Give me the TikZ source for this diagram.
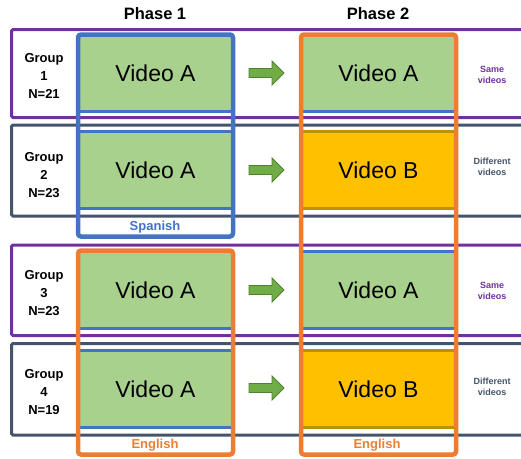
\documentclass[tikz,border=0pt]{standalone}
\usepackage{fontspec}
\setmainfont{Liberation Sans}
\definecolor{cpurple}{HTML}{7030A0}
\definecolor{cslate}{HTML}{44546A}
\definecolor{cblue}{HTML}{4472C4}
\definecolor{corange}{HTML}{ED7D31}
\definecolor{cgreen}{HTML}{A9D18E}
\definecolor{cyellow}{HTML}{FFC000}
\definecolor{cgold}{HTML}{BF9000}
\definecolor{carrow}{HTML}{70AD47}
\definecolor{carrowb}{HTML}{507E32}
\tikzset{
  rowpurple/.style={draw=cpurple, line width=3pt, rounded corners=1.5pt},
  rowslate/.style={draw=cslate, line width=3pt, rounded corners=1.5pt},
  vidbox/.style={inner sep=0pt, minimum width=155pt, minimum height=80pt, font=\fontsize{23}{27}\selectfont},
  vida/.style={vidbox, fill=cgreen},
  vidb/.style={vidbox, fill=cyellow},
  blueline/.style={draw=cblue, line width=2.5pt},
  goldline/.style={draw=cgold, line width=2.5pt},
  langbox/.style={line width=4.5pt, rounded corners=3pt},
  grouplabel/.style={align=center, font=\bfseries\fontsize{13}{18}\selectfont},
  sidelabel/.style={align=center, font=\bfseries\fontsize{9}{11}\selectfont},
  phaselabel/.style={font=\bfseries\fontsize{16.5}{20}\selectfont},
  langlabel/.style={font=\bfseries\fontsize{13}{15}\selectfont},
  greenarrow/.style={fill=carrow, draw=carrowb, line width=0.8pt}
}
\begin{document}
\begin{tikzpicture}[x=1pt, y=-1pt]
\useasboundingbox (0,0) rectangle (521,458);
\clip (0,0) rectangle (521,458);
% group rows
\draw[rowpurple] (11.5,29.5) rectangle (540,117.5);
\draw[rowslate] (11.5,125) rectangle (540,216);
\draw[rowpurple] (11.5,245) rectangle (540,335.5);
\draw[rowslate] (11.5,343.5) rectangle (540,435);
% video boxes
\node[vida] (v11) at (155.5,73) {Video A};
\node[vida] (v12) at (378.5,73) {Video A};
\node[vida] (v21) at (155.5,170) {Video A};
\node[vidb] (v22) at (378.5,170) {Video B};
\node[vida] (v31) at (155.5,290) {Video A};
\node[vida] (v32) at (378.5,290) {Video A};
\node[vida] (v41) at (155.5,389) {Video A};
\node[vidb] (v42) at (378.5,389) {Video B};
% frame lines
\foreach \v in {v11,v12,v21,v31,v32,v41}{
  \draw[blueline] ([yshift=-1.5pt]\v.north west) -- ([yshift=-1.5pt]\v.north east);
  \draw[blueline] ([yshift=1.5pt]\v.south west) -- ([yshift=1.5pt]\v.south east);
}
\foreach \v in {v22,v42}{
  \draw[goldline] ([yshift=-1.5pt]\v.north west) -- ([yshift=-1.5pt]\v.north east);
  \draw[goldline] ([yshift=1.5pt]\v.south west) -- ([yshift=1.5pt]\v.south east);
}
% arrows
\foreach \y in {73,170,290,388}{
  \draw[greenarrow] (249,\y-4.5) -- (272,\y-4.5) -- (272,\y-12) -- (284,\y) -- (272,\y+12) -- (272,\y+4.5) -- (249,\y+4.5) -- cycle;
}
% language boxes
\draw[langbox, draw=cblue] (78,34.5) rectangle (233,236.5);
\draw[langbox, draw=corange] (78,250.5) rectangle (233,454.5);
\draw[langbox, draw=corange] (301,34.5) rectangle (456,454.5);
% labels
\node[phaselabel] (p1) at (155,14) {Phase 1};
\node[phaselabel] (p2) at (378,14) {Phase 2};
\node[grouplabel] (g1) at (44,76) {Group\\1\\N=21};
\node[grouplabel] (g2) at (44,175) {Group\\2\\N=23};
\node[grouplabel] (g3) at (44,293) {Group\\3\\N=23};
\node[grouplabel] (g4) at (44,392) {Group\\4\\N=19};
\node[sidelabel, text=cpurple] (s1) at (492,75) {Same\\videos};
\node[sidelabel, text=cslate] (s2) at (492,167) {Different\\videos};
\node[sidelabel, text=cpurple] (s3) at (492,291) {Same\\videos};
\node[sidelabel, text=cslate] (s4) at (492,387) {Different\\videos};
\node[langlabel, text=cblue] (l1) at (155,227) {Spanish};
\node[langlabel, text=corange] (l2) at (155,445) {English};
\node[langlabel, text=corange] (l3) at (377,445) {English};
\end{tikzpicture}
\end{document}
